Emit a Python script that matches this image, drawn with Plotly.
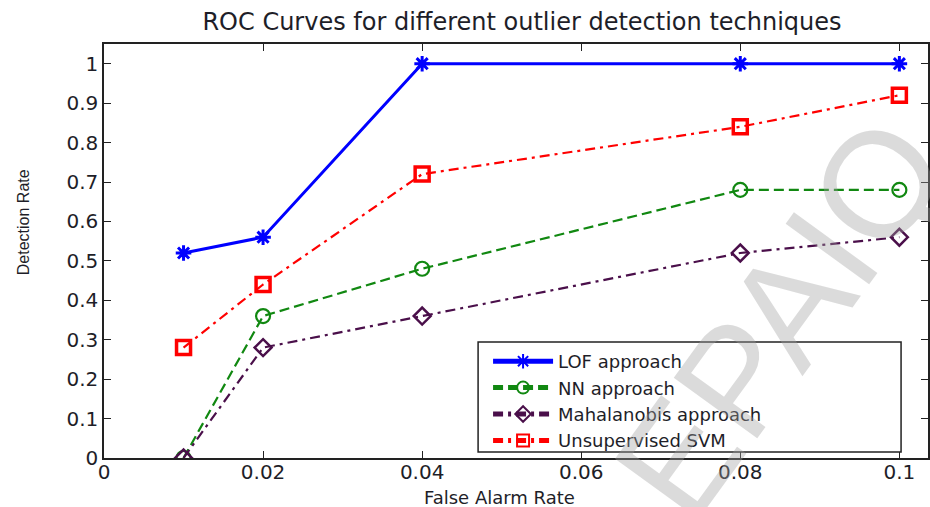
import plotly.graph_objects as go

far = [0.01, 0.02, 0.04, 0.08, 0.1]
lof = [0.52, 0.56, 1.0, 1.0, 1.0]
nn = [0.0, 0.36, 0.48, 0.68, 0.68]
maha = [0.0, 0.28, 0.36, 0.52, 0.56]
svm = [0.28, 0.44, 0.72, 0.84, 0.92]

names = ["LOF approach", "NN approach", "Mahalanobis approach", "Unsupervised SVM"]
xticks = [0, 0.02, 0.04, 0.06, 0.08, 0.1]
xticklabels = ["0", "0.02", "0.04", "0.06", "0.08", "0.1"]
yticks = [0, 0.1, 0.2, 0.3, 0.4, 0.5, 0.6, 0.7, 0.8, 0.9, 1]
yticklabels = ["0", "0.1", "0.2", "0.3", "0.4", "0.5", "0.6", "0.7", "0.8", "0.9", "1"]

WIDE = "DejaVu Sans, Verdana, sans-serif"
NARROW = "Liberation Sans, Arial, sans-serif"
INK = "#1e1e28"

# plot-area geometry (pixels)
L, R, T, B = 104, 930, 44, 458
PW, PH = R - L, B - T


def px(xp):
    return (xp - L) / PW


def py(yp):
    return (B - yp) / PH


fig = go.Figure()
fig.add_trace(go.Scatter(x=far, y=lof, name=names[0], mode="lines+markers",
                         line=dict(color="#0000ff", width=3, dash="solid"),
                         marker=dict(symbol="asterisk-open", size=13, color="#0000ff",
                                     line=dict(color="#0000ff", width=3))))
fig.add_trace(go.Scatter(x=far, y=nn, name=names[1], mode="lines+markers",
                         line=dict(color="#118811", width=2.2, dash="10px,5px"),
                         marker=dict(symbol="circle-open", size=14, color="#118811",
                                     line=dict(color="#118811", width=2.2))))
fig.add_trace(go.Scatter(x=far, y=maha, name=names[2], mode="lines+markers",
                         line=dict(color="#4a0f4a", width=2.2, dash="10px,5px,3px,5px"),
                         marker=dict(symbol="diamond-open", size=13, color="#4a0f4a",
                                     line=dict(color="#4a0f4a", width=2.5))))
fig.add_trace(go.Scatter(x=far, y=svm, name=names[3], mode="lines+markers",
                         line=dict(color="#ff0000", width=2.2, dash="10px,5px,3px,5px"),
                         marker=dict(symbol="square-open", size=14, color="#ff0000",
                                     line=dict(color="#ff0000", width=3.5))))

# legend frame (white box behind legend entries)
fig.add_shape(type="rect", xref="paper", yref="paper",
              x0=px(479), x1=px(903), y0=py(452), y1=py(342),
              line=dict(color="#222222", width=1.5), fillcolor="white", layer="above")

# watermark
fig.add_annotation(text="EPAIQ", xref="paper", yref="paper", x=px(782), y=py(318),
                   xanchor="center", yanchor="middle",
                   showarrow=False, textangle=-54,
                   font=dict(family=NARROW, size=150, color="rgba(160,160,160,0.38)"))

# axis titles
fig.add_annotation(text="Detection Rate", xref="paper", yref="paper", x=px(23), y=py(222),
                   xanchor="center", yanchor="middle", showarrow=False, textangle=-90,
                   font=dict(family=NARROW, size=16, color=INK))
fig.add_annotation(text="False Alarm Rate", xref="paper", yref="paper", x=px(500), y=py(497),
                   xanchor="center", yanchor="middle", showarrow=False,
                   font=dict(family=WIDE, size=18, color=INK))

fig.update_layout(
    width=930, height=507,
    margin=dict(l=L, r=930 - R, t=T, b=507 - B),
    paper_bgcolor="white", plot_bgcolor="white",
    title=dict(text="ROC Curves for different outlier detection techniques",
               x=522 / 930, xanchor="center", y=1 - 22 / 507, yanchor="middle",
               font=dict(family=WIDE, size=24, color=INK)),
    font=dict(family=WIDE, color=INK),
    xaxis=dict(range=[0, 0.1036], tickvals=xticks, ticktext=xticklabels,
               showgrid=False, zeroline=False, showline=True, linecolor="#222222",
               linewidth=1.5, mirror="ticks", ticks="inside", ticklen=7,
               ticklabelstandoff=-5,
               tickcolor="#222222", tickfont=dict(family=WIDE, size=20, color=INK)),
    yaxis=dict(range=[0, 1.05], tickvals=yticks, ticktext=yticklabels,
               showgrid=False, zeroline=False, showline=True, linecolor="#222222",
               linewidth=1.5, mirror="ticks", ticks="inside", ticklen=7,
               tickcolor="#222222", tickfont=dict(family=WIDE, size=20, color=INK)),
    legend=dict(x=px(489), y=py(343), xanchor="left", yanchor="top",
                borderwidth=0, bgcolor="rgba(0,0,0,0)",
                font=dict(family=WIDE, size=18, color=INK), tracegroupgap=0,
                itemwidth=60, itemsizing="constant"),
    showlegend=True,
)

fig.write_html("out.html")
